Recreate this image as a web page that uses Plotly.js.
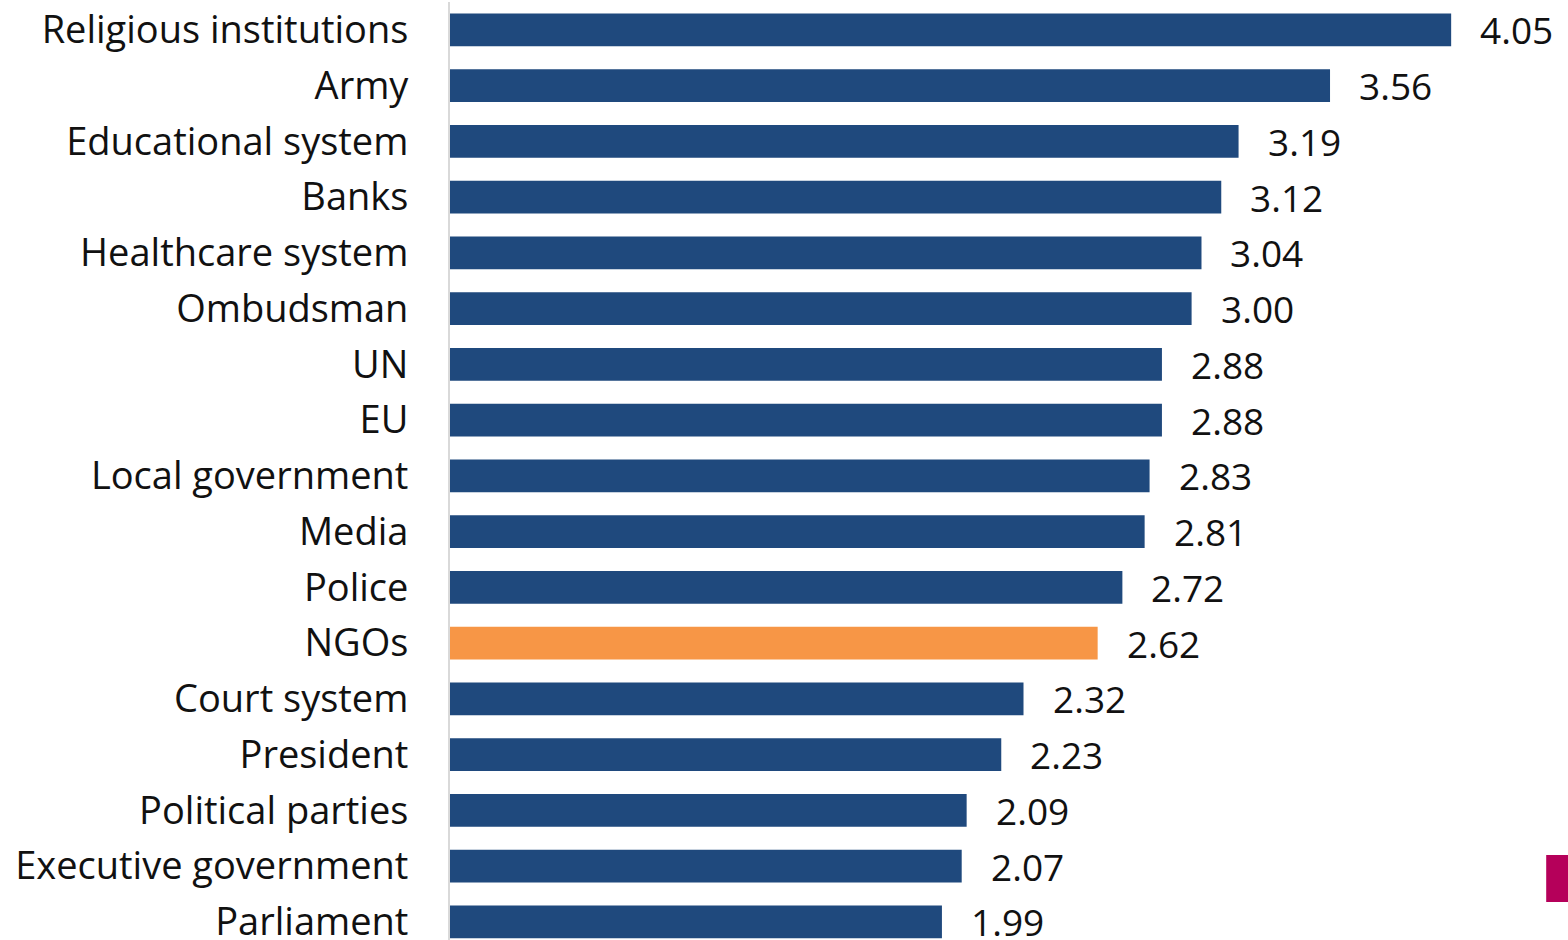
<!DOCTYPE html>
<html><head><meta charset="utf-8">
<script src="https://cdn.plot.ly/plotly-3.0.1.min.js"></script>
<style>html,body{margin:0;padding:0;background:#fff}#chart{width:1568px;height:940px}</style>
</head><body><div id="chart"></div>
<script>
const categories = ["Religious institutions","Army","Educational system","Banks","Healthcare system","Ombudsman","UN","EU","Local government","Media","Police","NGOs","Court system","President","Political parties","Executive government","Parliament"];
const values = [4.05,3.56,3.19,3.12,3.04,3.00,2.88,2.88,2.83,2.81,2.72,2.62,2.32,2.23,2.09,2.07,1.99];
const highlight = "NGOs";
const blue = "#1f497d", orange = "#f79646";
const colors = categories.map(c => c === highlight ? orange : blue);
const fontFam = "'Open Sans', Lato, sans-serif";
const annotations = categories.map((c,i) => ({
  x: values[i], y: c, xref:'x', yref:'y', text: values[i].toFixed(2),
  showarrow:false, xanchor:'left', yanchor:'middle', xshift:27,
  font:{family:fontFam, size:37, color:'#111'}
}));
const trace = {type:'bar', orientation:'h', x: values, y: categories,
  marker:{color: colors}, hoverinfo:'none'};
const layout = {
  width:1568, height:940, margin:{l:450, r:0, t:2, b:0},
  paper_bgcolor:'#fff', plot_bgcolor:'#fff', bargap:0.41, showlegend:false,
  xaxis:{range:[0, 1118/247.2], showgrid:false, zeroline:false, showticklabels:false, showline:false, fixedrange:true},
  yaxis:{type:'category', range:[16.325,-0.5], showgrid:false, zeroline:false,
    showline:true, linecolor:'#d9d9d9', linewidth:2, ticks:'', ticklabelstandoff:32,
    tickfont:{family:fontFam, size:38, color:'#111'}, automargin:false},
  annotations: annotations,
  shapes:[{type:'rect', xref:'paper', yref:'paper', x0:0.9805, x1:1.01, y0:0.0405, y1:0.0906, fillcolor:'#b5005a', line:{width:0}}]
};
Plotly.newPlot('chart',[trace],layout,{displayModeBar:false, staticPlot:true});
</script></body></html>
